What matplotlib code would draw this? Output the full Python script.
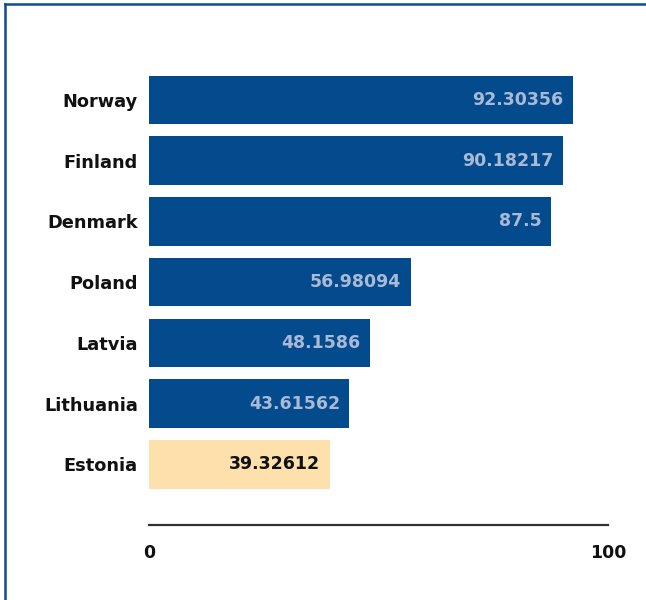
import matplotlib
matplotlib.use('Agg')
import matplotlib.pyplot as plt
from matplotlib.lines import Line2D

countries = ['Estonia', 'Lithuania', 'Latvia', 'Poland', 'Denmark', 'Finland', 'Norway']
values = [39.32612, 43.61562, 48.1586, 56.98094, 87.5, 90.18217, 92.30356]
labels = ['39.32612', '43.61562', '48.1586', '56.98094', '87.5', '90.18217', '92.30356']
highlight = 'Estonia'

blue = '#034b8c'
sand = '#fde0ac'

fig = plt.figure(figsize=(6.46, 6.0), dpi=100)
ax = fig.add_axes([149 / 646, 0.125, (608 - 149) / 646, 0.759])

colors = [sand if c == highlight else blue for c in countries]
pos = list(range(len(countries)))
bars = ax.barh(pos, values, height=0.8, color=colors)

for b, c, lab in zip(bars, countries, labels):
    tc = '#111111' if c == highlight else '#a9b9d6'
    ax.text(b.get_width() - 2.0, b.get_y() + b.get_height() / 2, lab,
            ha='right', va='center', fontsize=12.5, fontweight='bold', color=tc)

ax.set_xlim(0, 100)
ax.set_ylim(-1.0, 6.5)
ax.set_yticks(pos)
ax.set_yticklabels(countries, fontsize=12.8, fontweight='bold', color='#111111')
ax.set_xticks([0, 100])
ax.set_xticklabels(['0', '100'], fontsize=12.5, fontweight='bold', color='#111111')
ax.tick_params(length=0)
ax.tick_params(axis='x', pad=14)
ax.tick_params(axis='y', pad=8)
for s in ['top', 'right', 'left']:
    ax.spines[s].set_visible(False)
ax.spines['bottom'].set_color('#333333')
ax.spines['bottom'].set_linewidth(1.6)

# outer frame, top and left edges
fig.add_artist(Line2D([4.5 / 646, 1], [1 - 3.5 / 600, 1 - 3.5 / 600], color='#0f4c92', lw=1.8))
fig.add_artist(Line2D([4.5 / 646, 4.5 / 646], [0, 1 - 3.5 / 600], color='#0f4c92', lw=1.8))

fig.savefig('out.png', dpi=100)
